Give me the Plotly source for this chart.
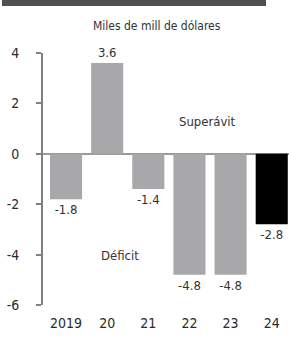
import plotly.graph_objects as go

years = ["2019", "20", "21", "22", "23", "24"]
values = [-1.8, 3.6, -1.4, -4.8, -4.8, -2.8]
labels = ["-1.8", "3.6", "-1.4", "-4.8", "-4.8", "-2.8"]
bar_colors = ["#a8a8aa", "#a8a8aa", "#a8a8aa", "#a8a8aa", "#a8a8aa", "#000000"]
y_ticks = [4, 2, 0, -2, -4, -6]

FONT = "Liberation Sans Narrow, DejaVu Sans Condensed, Arial Narrow, sans-serif"
x_idx = list(range(len(years)))

fig = go.Figure(go.Bar(
    x=x_idx, y=values, width=0.78,
    marker=dict(color=bar_colors, line=dict(width=0)),
    text=labels, textposition="outside", cliponaxis=False,
    textfont=dict(family=FONT, size=13, color="#333333"),
))

W, H = 289, 340
ml, mr, mt, mb = 43, 0, 53, 35
ph = H - mt - mb

fig.update_layout(
    width=W, height=H,
    margin=dict(l=ml, r=mr, t=mt, b=mb),
    paper_bgcolor="white", plot_bgcolor="white",
    showlegend=False, bargap=0.2,
    font=dict(family=FONT, color="#333333"),
    xaxis=dict(range=[-0.56, 5.42], tickvals=x_idx, ticktext=years,
               showgrid=False, zeroline=False, showline=False, ticks="",
               tickfont=dict(family=FONT, size=14, color="#2a2a2a"),
               ticklabelstandoff=8),
    yaxis=dict(range=[-6, 4], tickvals=y_ticks, ticktext=[str(v) for v in y_ticks],
               showgrid=False, zeroline=True, zerolinecolor="#9a9a9a", zerolinewidth=2,
               showline=True, linecolor="#808080", linewidth=2,
               ticks="outside", ticklen=5, tickwidth=2, tickcolor="#808080",
               tickfont=dict(family=FONT, size=14, color="#2a2a2a"),
               ticklabelstandoff=14),
    annotations=[
        dict(x=3.45, y=1.3, xref="x", yref="y", text="Superávit", showarrow=False,
             font=dict(family=FONT, size=13, color="#333333")),
        dict(x=1.31, y=-4.05, xref="x", yref="y", text="Déficit", showarrow=False,
             font=dict(family=FONT, size=13, color="#333333")),
        dict(x=(157 - ml) / (W - ml - mr), y=1 + (mt - 17) / ph, xref="paper", yref="paper",
             text="Miles de mill de dólares", showarrow=False,
             font=dict(family=FONT, size=12, color="#333333")),
    ],
    shapes=[
        dict(type="rect", xref="paper", yref="paper",
             x0=(2 - ml) / (W - ml - mr), x1=(266 - ml) / (W - ml - mr),
             y0=1 + (mt - 6) / ph, y1=1 + mt / ph,
             fillcolor="#505050", line=dict(width=0), layer="above"),
    ],
)

fig.write_html("out.html", config={"displayModeBar": False},
               post_script="document.body.style.margin='0';document.body.style.overflow='hidden';")
